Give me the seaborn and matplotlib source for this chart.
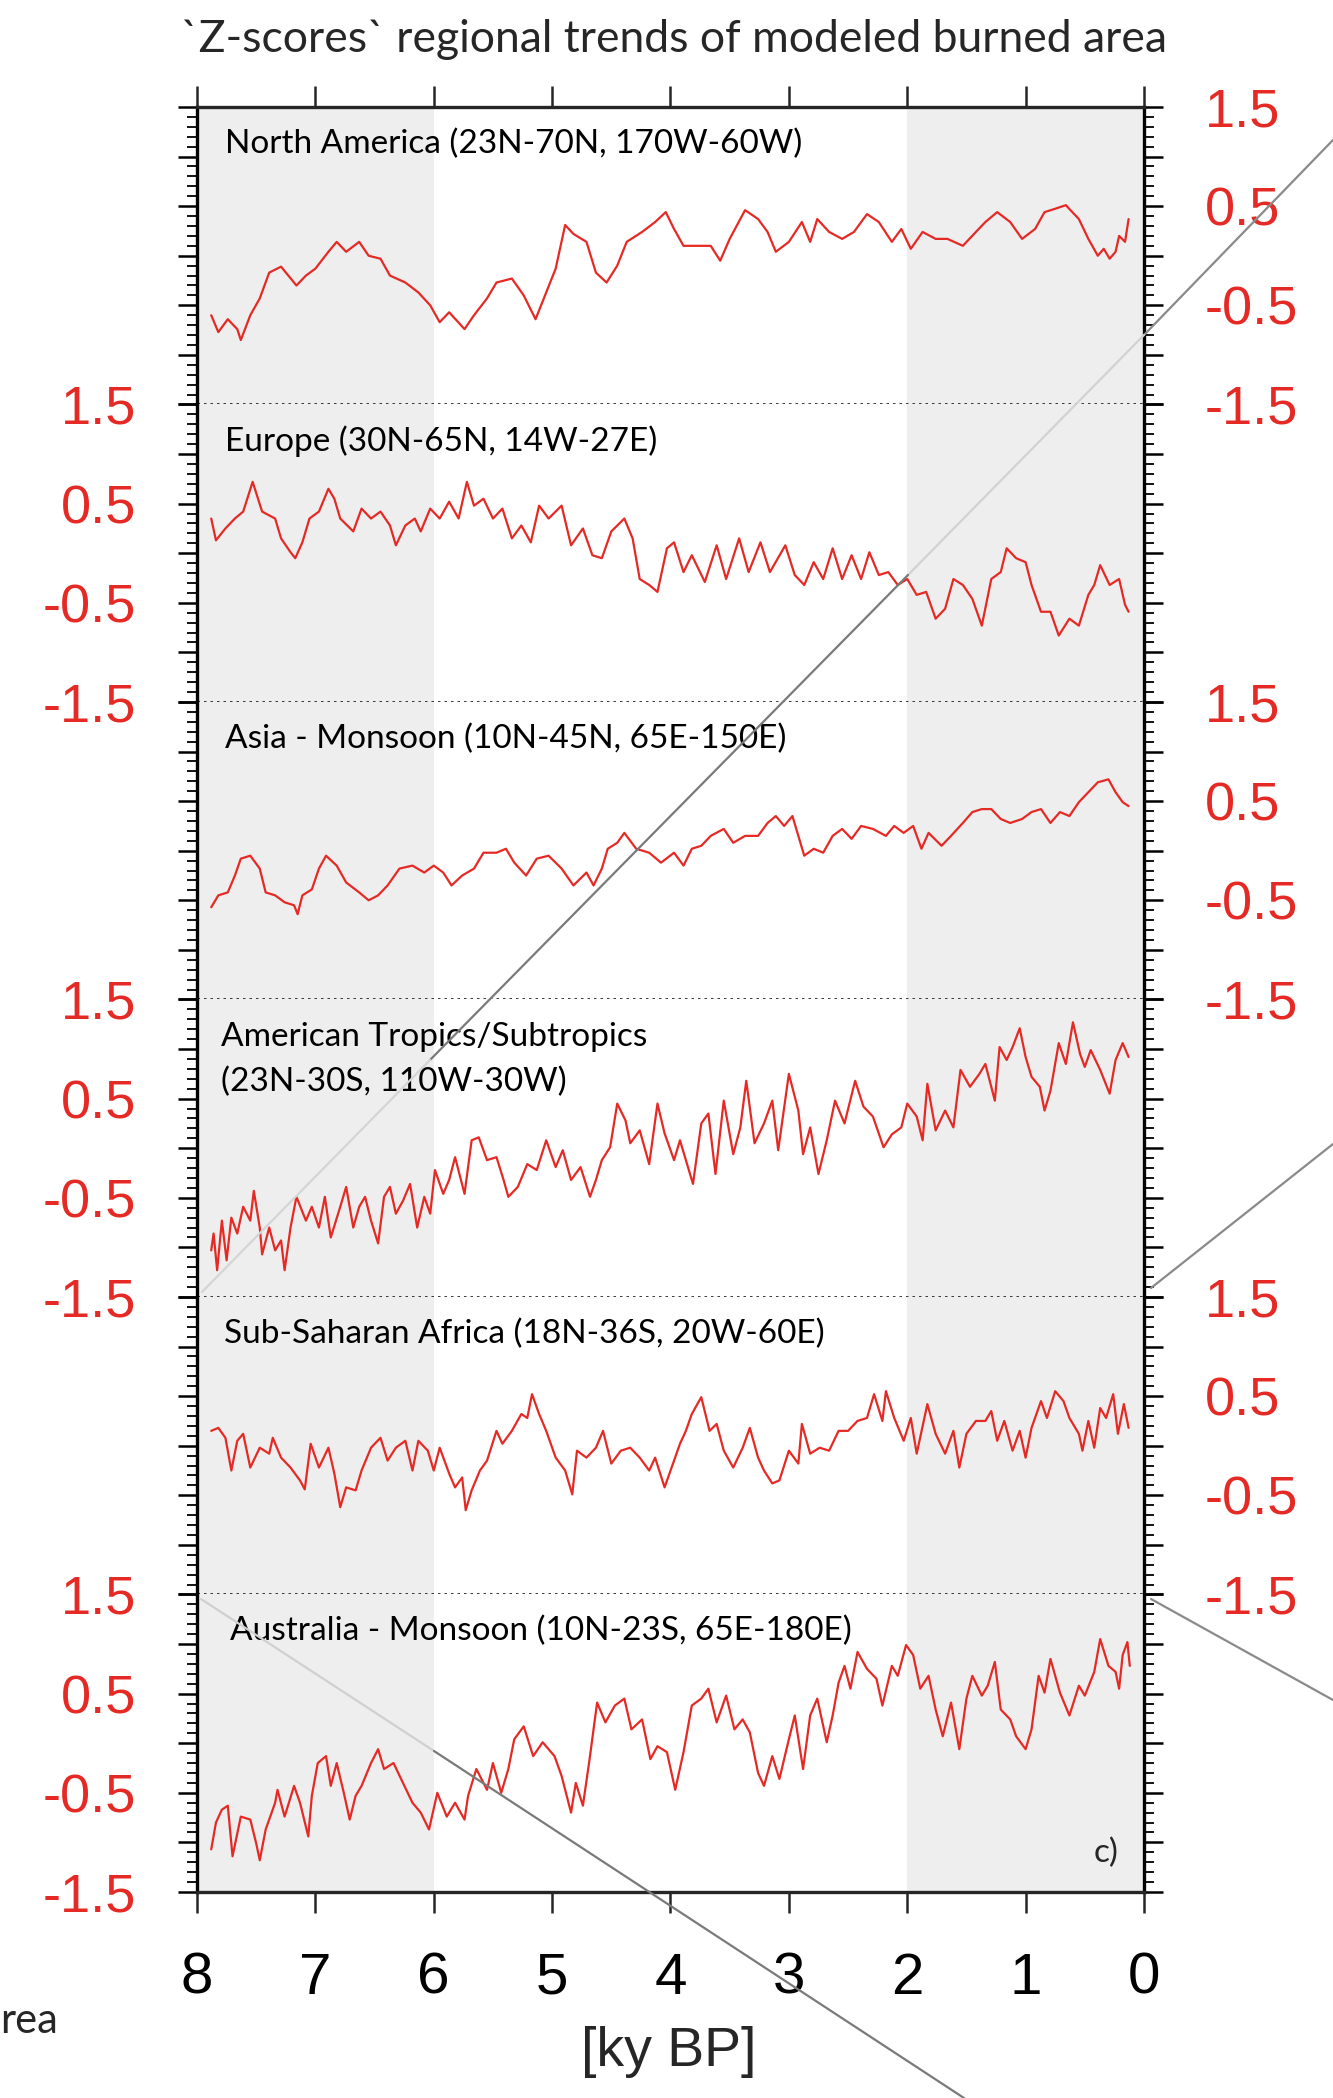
import matplotlib.pyplot as plt
from matplotlib.lines import Line2D
from matplotlib.ticker import MultipleLocator, FuncFormatter
import seaborn as sns

# ---------------------------------------------------------------------
# Datos (edad en ky BP, z-score)
# ---------------------------------------------------------------------
na_age = [7.88, 7.82, 7.74, 7.66, 7.63, 7.55, 7.47, 7.39, 7.29, 7.16, 7.08, 7.00, 6.89, 6.82,
          6.74, 6.63, 6.55, 6.45, 6.37, 6.24, 6.13, 6.03, 5.95, 5.87, 5.74, 5.66, 5.55, 5.47,
          5.34, 5.24, 5.14, 5.05, 4.97, 4.89, 4.82, 4.71, 4.63, 4.54, 4.45, 4.37, 4.24, 4.13,
          4.04, 3.97, 3.89, 3.79, 3.66, 3.58, 3.50, 3.37, 3.26, 3.18, 3.11, 3.00, 2.89, 2.82,
          2.76, 2.66, 2.55, 2.45, 2.34, 2.24, 2.13, 2.05, 1.97, 1.87, 1.76, 1.66, 1.53, 1.42,
          1.34, 1.24, 1.13, 1.03, 0.92, 0.84, 0.76, 0.66, 0.55, 0.47, 0.39, 0.34, 0.29, 0.24,
          0.21, 0.16, 0.13]
na_z = [-0.60, -0.77, -0.64, -0.74, -0.85, -0.60, -0.43, -0.17, -0.11, -0.30, -0.20, -0.13, 0.04, 0.14,
        0.04, 0.14, 0.00, -0.03, -0.20, -0.27, -0.37, -0.50, -0.67, -0.57, -0.74, -0.60, -0.43, -0.27,
        -0.23, -0.40, -0.64, -0.37, -0.13, 0.31, 0.22, 0.14, -0.17, -0.27, -0.10, 0.14, 0.24, 0.34,
        0.44, 0.27, 0.10, 0.10, 0.10, -0.05, 0.17, 0.46, 0.37, 0.24, 0.04, 0.14, 0.34, 0.14,
        0.37, 0.24, 0.17, 0.24, 0.42, 0.34, 0.14, 0.27, 0.07, 0.24, 0.17, 0.17, 0.10, 0.24,
        0.34, 0.44, 0.34, 0.17, 0.27, 0.44, 0.47, 0.51, 0.37, 0.17, 0.00, 0.07, -0.03, 0.04,
        0.20, 0.14, 0.37]

eu_age = [7.88, 7.84, 7.76, 7.68, 7.61, 7.53, 7.45, 7.34, 7.29, 7.21, 7.17, 7.11, 7.05, 6.97,
          6.89, 6.84, 6.79, 6.68, 6.61, 6.53, 6.45, 6.37, 6.32, 6.24, 6.16, 6.11, 6.03, 5.95,
          5.87, 5.79, 5.72, 5.66, 5.58, 5.50, 5.42, 5.34, 5.26, 5.18, 5.11, 5.03, 4.92, 4.84,
          4.74, 4.66, 4.58, 4.50, 4.39, 4.32, 4.26, 4.18, 4.11, 4.03, 3.97, 3.89, 3.82, 3.71,
          3.61, 3.53, 3.42, 3.34, 3.24, 3.16, 3.03, 2.95, 2.87, 2.79, 2.71, 2.63, 2.55, 2.47,
          2.39, 2.32, 2.24, 2.16, 2.08, 2.00, 1.92, 1.84, 1.76, 1.68, 1.61, 1.53, 1.45, 1.37,
          1.29, 1.21, 1.16, 1.08, 1.00, 0.95, 0.87, 0.79, 0.72, 0.63, 0.55, 0.47, 0.42, 0.37,
          0.29, 0.21, 0.16, 0.13]
eu_z = [0.35, 0.13, 0.25, 0.35, 0.42, 0.72, 0.42, 0.35, 0.15, 0.01, -0.05, 0.11, 0.35, 0.42,
        0.65, 0.55, 0.35, 0.22, 0.45, 0.35, 0.42, 0.28, 0.08, 0.28, 0.35, 0.22, 0.45, 0.35,
        0.52, 0.35, 0.72, 0.48, 0.55, 0.35, 0.45, 0.15, 0.28, 0.11, 0.48, 0.35, 0.48, 0.08,
        0.25, -0.02, -0.05, 0.22, 0.35, 0.15, -0.26, -0.32, -0.39, 0.05, 0.11, -0.19, -0.02, -0.29,
        0.08, -0.26, 0.15, -0.19, 0.11, -0.19, 0.08, -0.22, -0.32, -0.09, -0.26, 0.05, -0.26, -0.02,
        -0.26, 0.01, -0.22, -0.19, -0.32, -0.26, -0.42, -0.39, -0.66, -0.56, -0.26, -0.32, -0.46, -0.73,
        -0.26, -0.19, 0.05, -0.05, -0.09, -0.32, -0.59, -0.59, -0.83, -0.66, -0.73, -0.42, -0.32, -0.12,
        -0.32, -0.26, -0.52, -0.59]

as_age = [7.88, 7.82, 7.74, 7.68, 7.63, 7.55, 7.47, 7.42, 7.34, 7.26, 7.18, 7.15, 7.11, 7.03,
          6.97, 6.91, 6.82, 6.74, 6.63, 6.55, 6.47, 6.39, 6.29, 6.18, 6.08, 6.00, 5.92, 5.85,
          5.76, 5.66, 5.58, 5.47, 5.39, 5.32, 5.22, 5.13, 5.03, 4.92, 4.82, 4.71, 4.65, 4.58,
          4.53, 4.45, 4.39, 4.29, 4.18, 4.08, 3.97, 3.89, 3.82, 3.74, 3.66, 3.55, 3.47, 3.37,
          3.26, 3.18, 3.11, 3.04, 2.97, 2.92, 2.87, 2.79, 2.71, 2.63, 2.55, 2.47, 2.39, 2.29,
          2.18, 2.11, 2.03, 1.95, 1.88, 1.82, 1.71, 1.63, 1.53, 1.45, 1.37, 1.29, 1.21, 1.13,
          1.03, 0.95, 0.87, 0.79, 0.71, 0.63, 0.55, 0.47, 0.39, 0.30, 0.24, 0.18, 0.13]
as_z = [-0.57, -0.45, -0.42, -0.25, -0.08, -0.05, -0.18, -0.42, -0.45, -0.52, -0.55, -0.64, -0.45, -0.39,
        -0.18, -0.05, -0.15, -0.32, -0.42, -0.50, -0.45, -0.35, -0.18, -0.15, -0.22, -0.15, -0.22, -0.35,
        -0.25, -0.18, -0.02, -0.02, 0.02, -0.12, -0.25, -0.08, -0.05, -0.18, -0.35, -0.22, -0.35, -0.18,
        0.02, 0.08, 0.18, 0.02, -0.02, -0.12, -0.02, -0.15, 0.02, 0.05, 0.15, 0.22, 0.08, 0.15,
        0.15, 0.28, 0.35, 0.25, 0.35, 0.15, -0.05, 0.02, -0.02, 0.15, 0.22, 0.12, 0.25, 0.22,
        0.15, 0.25, 0.18, 0.25, 0.02, 0.18, 0.05, 0.15, 0.28, 0.39, 0.42, 0.42, 0.32, 0.28,
        0.32, 0.39, 0.42, 0.28, 0.39, 0.35, 0.49, 0.59, 0.69, 0.72, 0.59, 0.49, 0.45]

at_age = [7.88, 7.86, 7.83, 7.79, 7.75, 7.71, 7.66, 7.61, 7.55, 7.52, 7.47, 7.45, 7.39, 7.34,
          7.29, 7.26, 7.21, 7.16, 7.08, 7.03, 6.97, 6.92, 6.87, 6.79, 6.74, 6.68, 6.63, 6.58,
          6.53, 6.47, 6.42, 6.37, 6.32, 6.26, 6.20, 6.14, 6.08, 6.03, 5.99, 5.92, 5.87, 5.82,
          5.74, 5.68, 5.62, 5.55, 5.47, 5.41, 5.37, 5.29, 5.21, 5.13, 5.05, 4.97, 4.91, 4.84,
          4.76, 4.68, 4.63, 4.58, 4.51, 4.45, 4.38, 4.34, 4.26, 4.18, 4.11, 4.05, 3.97, 3.92,
          3.87, 3.81, 3.74, 3.68, 3.62, 3.55, 3.47, 3.41, 3.36, 3.29, 3.21, 3.14, 3.09, 3.00,
          2.92, 2.88, 2.82, 2.75, 2.68, 2.61, 2.53, 2.44, 2.37, 2.29, 2.20, 2.13, 2.05, 2.00,
          1.92, 1.87, 1.83, 1.76, 1.68, 1.61, 1.55, 1.47, 1.39, 1.34, 1.26, 1.22, 1.16, 1.11,
          1.05, 1.00, 0.95, 0.88, 0.84, 0.79, 0.72, 0.66, 0.60, 0.54, 0.50, 0.45, 0.37, 0.29,
          0.24, 0.18, 0.13]
at_z = [-1.03, -0.86, -1.23, -0.73, -1.13, -0.70, -0.86, -0.59, -0.73, -0.43, -0.80, -1.07, -0.80, -1.03,
        -0.93, -1.23, -0.80, -0.49, -0.73, -0.59, -0.80, -0.49, -0.90, -0.59, -0.39, -0.80, -0.59, -0.49,
        -0.73, -0.96, -0.49, -0.39, -0.66, -0.53, -0.36, -0.80, -0.49, -0.66, -0.22, -0.46, -0.32, -0.09,
        -0.46, 0.08, 0.11, -0.12, -0.09, -0.32, -0.49, -0.39, -0.16, -0.22, 0.08, -0.19, -0.02, -0.32,
        -0.19, -0.49, -0.32, -0.12, 0.01, 0.45, 0.28, 0.05, 0.18, -0.16, 0.45, 0.15, -0.12, 0.08,
        -0.12, -0.36, 0.25, 0.35, -0.26, 0.48, -0.06, 0.21, 0.68, 0.05, 0.25, 0.48, -0.02, 0.75,
        0.38, -0.06, 0.21, -0.26, 0.08, 0.48, 0.25, 0.68, 0.42, 0.32, 0.01, 0.14, 0.21, 0.45,
        0.32, 0.08, 0.65, 0.18, 0.38, 0.21, 0.79, 0.62, 0.75, 0.85, 0.48, 1.02, 0.89, 1.02,
        1.21, 0.92, 0.72, 0.62, 0.38, 0.58, 1.06, 0.85, 1.27, 0.95, 0.82, 0.99, 0.79, 0.55,
        0.89, 1.06, 0.92]

af_age = [7.88, 7.82, 7.76, 7.71, 7.66, 7.61, 7.55, 7.47, 7.39, 7.36, 7.29, 7.21, 7.13, 7.09,
          7.04, 6.97, 6.89, 6.84, 6.79, 6.74, 6.66, 6.61, 6.53, 6.45, 6.39, 6.32, 6.24, 6.18,
          6.13, 6.05, 6.00, 5.95, 5.87, 5.82, 5.76, 5.73, 5.68, 5.61, 5.55, 5.47, 5.42, 5.34,
          5.26, 5.21, 5.17, 5.11, 5.05, 4.97, 4.89, 4.83, 4.79, 4.71, 4.63, 4.57, 4.50, 4.42,
          4.34, 4.26, 4.18, 4.13, 4.05, 3.97, 3.92, 3.87, 3.82, 3.74, 3.67, 3.61, 3.55, 3.47,
          3.39, 3.33, 3.26, 3.21, 3.14, 3.08, 3.00, 2.92, 2.89, 2.82, 2.74, 2.66, 2.58, 2.50,
          2.42, 2.34, 2.28, 2.21, 2.18, 2.11, 2.03, 1.97, 1.92, 1.83, 1.76, 1.68, 1.61, 1.56,
          1.50, 1.42, 1.34, 1.29, 1.24, 1.18, 1.11, 1.05, 1.00, 0.95, 0.87, 0.82, 0.75, 0.68,
          0.63, 0.55, 0.52, 0.47, 0.42, 0.37, 0.32, 0.26, 0.22, 0.17, 0.13]
af_z = [0.15, 0.18, 0.08, -0.25, 0.05, 0.12, -0.22, -0.02, -0.08, 0.08, -0.12, -0.22, -0.35, -0.44,
        0.02, -0.22, -0.02, -0.28, -0.62, -0.42, -0.45, -0.25, -0.02, 0.08, -0.15, -0.02, 0.05, -0.25,
        0.05, -0.05, -0.25, -0.02, -0.28, -0.42, -0.32, -0.65, -0.45, -0.25, -0.15, 0.15, 0.02, 0.15,
        0.32, 0.28, 0.52, 0.32, 0.15, -0.12, -0.25, -0.49, -0.05, -0.12, -0.02, 0.15, -0.18, -0.05,
        -0.02, -0.12, -0.25, -0.12, -0.42, -0.15, 0.02, 0.15, 0.32, 0.49, 0.15, 0.22, -0.05, -0.22,
        -0.02, 0.18, -0.12, -0.25, -0.38, -0.35, -0.05, -0.18, 0.22, -0.08, -0.02, -0.05, 0.15, 0.15,
        0.25, 0.28, 0.52, 0.25, 0.55, 0.28, 0.05, 0.28, -0.08, 0.42, 0.12, -0.08, 0.15, -0.22,
        0.12, 0.25, 0.25, 0.35, 0.05, 0.25, -0.05, 0.15, -0.12, 0.18, 0.45, 0.28, 0.55, 0.45,
        0.28, 0.12, -0.05, 0.25, -0.02, 0.38, 0.28, 0.52, 0.12, 0.42, 0.18]

au_age = [7.88, 7.84, 7.79, 7.74, 7.70, 7.63, 7.55, 7.50, 7.47, 7.42, 7.34, 7.32, 7.26, 7.18,
          7.13, 7.06, 7.03, 6.98, 6.91, 6.87, 6.82, 6.76, 6.71, 6.66, 6.61, 6.53, 6.47, 6.42,
          6.34, 6.26, 6.18, 6.11, 6.04, 5.97, 5.89, 5.82, 5.74, 5.71, 5.64, 5.55, 5.50, 5.43,
          5.37, 5.32, 5.24, 5.16, 5.08, 4.98, 4.92, 4.84, 4.80, 4.74, 4.68, 4.62, 4.55, 4.47,
          4.39, 4.33, 4.24, 4.17, 4.11, 4.03, 3.96, 3.89, 3.82, 3.74, 3.68, 3.61, 3.53, 3.46,
          3.39, 3.33, 3.26, 3.21, 3.14, 3.08, 3.00, 2.95, 2.88, 2.82, 2.76, 2.68, 2.63, 2.58,
          2.53, 2.48, 2.42, 2.34, 2.26, 2.21, 2.13, 2.08, 2.01, 1.95, 1.89, 1.82, 1.76, 1.70,
          1.63, 1.56, 1.50, 1.45, 1.37, 1.32, 1.26, 1.21, 1.13, 1.08, 1.00, 0.95, 0.89, 0.84,
          0.79, 0.71, 0.63, 0.55, 0.50, 0.42, 0.37, 0.30, 0.24, 0.21, 0.18, 0.14, 0.12]
au_z = [-1.07, -0.80, -0.67, -0.63, -1.14, -0.74, -0.77, -1.01, -1.18, -0.87, -0.60, -0.47, -0.74, -0.43,
        -0.60, -0.94, -0.53, -0.20, -0.13, -0.43, -0.20, -0.50, -0.77, -0.53, -0.43, -0.20, -0.06, -0.26,
        -0.20, -0.40, -0.60, -0.70, -0.87, -0.50, -0.74, -0.60, -0.77, -0.53, -0.26, -0.47, -0.20, -0.50,
        -0.26, 0.04, 0.17, -0.13, 0.01, -0.13, -0.33, -0.70, -0.40, -0.63, -0.13, 0.41, 0.21, 0.38,
        0.45, 0.14, 0.24, -0.16, -0.03, -0.09, -0.47, -0.09, 0.38, 0.45, 0.55, 0.21, 0.48, 0.14,
        0.24, 0.11, -0.30, -0.43, -0.13, -0.36, 0.04, 0.28, -0.26, 0.28, 0.45, 0.01, 0.28, 0.61,
        0.78, 0.55, 0.92, 0.75, 0.65, 0.38, 0.78, 0.68, 0.99, 0.89, 0.55, 0.68, 0.34, 0.07,
        0.41, -0.06, 0.45, 0.68, 0.48, 0.58, 0.82, 0.34, 0.24, 0.07, -0.06, 0.14, 0.68, 0.51,
        0.85, 0.51, 0.28, 0.58, 0.48, 0.72, 1.05, 0.78, 0.72, 0.55, 0.89, 1.02, 0.78]

region_names = [
    ["North America (23N-70N, 170W-60W)"],
    ["Europe (30N-65N, 14W-27E)"],
    ["Asia - Monsoon (10N-45N, 65E-150E)"],
    ["American Tropics/Subtropics", "(23N-30S, 110W-30W)"],
    ["Sub-Saharan Africa (18N-36S, 20W-60E)"],
    ["Australia - Monsoon (10N-23S, 65E-180E)"],
]
series = [(na_age, na_z), (eu_age, eu_z), (as_age, as_z),
          (at_age, at_z), (af_age, af_z), (au_age, au_z)]
label_side = ["right", "left", "right", "left", "right", "left"]
name_x = [0.030, 0.030, 0.030, 0.025, 0.028, 0.035]
shaded_spans = [(8, 6), (2, 0)]
x_ticks = [8, 7, 6, 5, 4, 3, 2, 1, 0]

RED = "#e52a25"
SHADE = "#eeeeee"

sns.set_style("ticks")
plt.rcParams["font.family"] = ["Liberation Sans", "DejaVu Sans"]

fig = plt.figure(figsize=(13.33, 20.98), dpi=100)

left, width = 0.1478, 0.7104
top, ph = 0.949, 0.1418


def fmt_z(v, pos):
    if abs(abs(v) - 1.5) < 1e-6 or abs(abs(v) - 0.5) < 1e-6:
        return f"{v:.1f}"
    return ""


for i, ((age, z), names, side) in enumerate(zip(series, region_names, label_side)):
    ax = fig.add_axes([left, top - (i + 1) * ph, width, ph])
    ax.set_facecolor("white")
    for a, b in shaded_spans:
        ax.axvspan(a, b, color=SHADE, lw=0, zorder=0)

    sns.lineplot(x=age, y=z, ax=ax, color=RED, linewidth=1.6,
                 sort=False, estimator=None, zorder=3)

    ax.set_xlim(8, 0)
    ax.set_ylim(-1.5, 1.5)
    ax.set_xlabel("")
    ax.set_ylabel("")

    # bordes
    for s in ["left", "right"]:
        ax.spines[s].set_linewidth(2.4)
        ax.spines[s].set_color("black")
    ax.spines["top"].set_visible(i == 0)
    ax.spines["bottom"].set_visible(i == 5)
    ax.spines["top"].set_linewidth(2.4)
    ax.spines["bottom"].set_linewidth(2.4)
    if i < 5:
        ax.axhline(-1.5, color="black", lw=1.8, ls=(0, (1, 1.6)), clip_on=False, zorder=4)

    # eje y
    ax.yaxis.set_major_locator(MultipleLocator(0.5))
    ax.yaxis.set_minor_locator(MultipleLocator(0.1))
    ax.yaxis.set_major_formatter(FuncFormatter(fmt_z))
    ax.tick_params(axis="y", which="major", direction="out", length=14, width=1.8,
                   left=True, right=True, labelleft=(side == "left"),
                   labelright=(side == "right"), labelsize=39,
                   labelcolor=RED, color="black", pad=30)
    ax.tick_params(axis="y", which="minor", direction="out", length=7, width=1.3,
                   left=True, right=True, color="black")

    # eje x
    ax.set_xticks(x_ticks)
    if i == 0:
        ax.tick_params(axis="x", which="major", direction="out", length=15, width=1.8,
                       top=True, bottom=False, labeltop=False, labelbottom=False)
    elif i == 5:
        ax.tick_params(axis="x", which="major", direction="out", length=15, width=1.8,
                       top=False, bottom=True, labelbottom=True, labelsize=42,
                       labelcolor="black", pad=28)
    else:
        ax.tick_params(axis="x", which="both", top=False, bottom=False,
                       labeltop=False, labelbottom=False)

    # nombre de la region
    for k, line in enumerate(names):
        ax.text(name_x[i], 0.845 - k * 0.152, line, transform=ax.transAxes,
                fontsize=24, family=["Lato", "DejaVu Sans"], va="baseline", ha="left",
                color="black", zorder=5)

    if i == 5:
        ax.text(0.947, 0.101, "c)", transform=ax.transAxes, fontsize=24,
                family=["Lato", "DejaVu Sans"], va="baseline", ha="left")

fig.text(0.506, 0.981, "`Z-scores` regional trends of modeled burned area",
         ha="center", va="center", fontsize=32, family=["Lato", "DejaVu Sans"])
fig.text(0.502, 0.022, "[ky BP]", ha="center", va="center", fontsize=40)
fig.text(0.0, 0.0367, "rea", ha="left", va="center", fontsize=30,
         family=["Lato", "DejaVu Sans"])

# trazos diagonales grises que cruzan la imagen
W, H = 1333.0, 2098.0
diag_segments = [
    ((1333, 140), (1144, 335), "#8a8a8a"),
    ((1144, 335), (908, 575), "#d2d2d2"),
    ((908, 575), (430, 1060), "#7a7a7a"),
    ((430, 1060), (202, 1292), "#d5d5d5"),
    ((1333, 1144), (1151, 1288), "#8a8a8a"),
    ((1151, 1599), (1333, 1700), "#8a8a8a"),
    ((201, 1599), (434, 1751), "#d0d0d0"),
    ((434, 1751), (964, 2098), "#7a7a7a"),
]
for (x0, y0), (x1, y1), col in diag_segments:
    fig.add_artist(Line2D([x0 / W, x1 / W], [1 - y0 / H, 1 - y1 / H],
                          transform=fig.transFigure, color=col, lw=1.6, zorder=10))

fig.savefig("out.png", dpi=100)
